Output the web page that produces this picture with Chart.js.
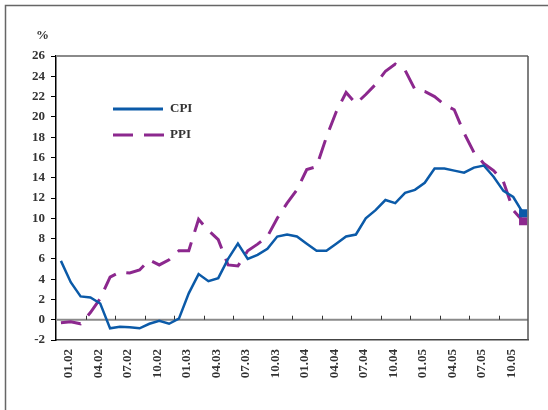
<!DOCTYPE html>
<html lang="en">
<head>
    <meta charset="UTF-8">
    <title>CPI and PPI</title>
    <style>
        body { margin: 0; background: #fff; }
    </style>
</head>
<body>
    <canvas id="myChart" width="548" height="410"></canvas>
    <script src="https://cdn.jsdelivr.net/npm/chart.js"></script>
    <script>
        // monthly data, 01.02 - 12.05
        const monthLabels = [];
        for (let y = 2; y <= 5; y++) {
            for (let m = 1; m <= 12; m++) {
                monthLabels.push(String(m).padStart(2, '0') + '.0' + y);
            }
        }
        const cpiValues = [5.8, 3.7, 2.3, 2.2, 1.6, -0.85, -0.7, -0.75, -0.85, -0.4, -0.1, -0.4,
                           0.1, 2.6, 4.5, 3.8, 4.1, 6.0, 7.5, 6.0, 6.4, 7.0, 8.2, 8.4,
                           8.2, 7.5, 6.8, 6.8, 7.5, 8.2, 8.4, 10.0, 10.8, 11.8, 11.5, 12.5,
                           12.8, 13.5, 14.9, 14.9, 14.7, 14.5, 15.0, 15.2, 14.1, 12.7, 12.1, 10.5];
        const ppiValues = [-0.3, -0.2, -0.4, 0.7, 2.1, 4.2, 4.7, 4.6, 4.9, 5.9, 5.4, 5.9,
                           6.8, 6.8, 9.9, 8.8, 7.9, 5.4, 5.3, 6.8, 7.45, 8.2, 10.0, 11.5,
                           12.8, 14.8, 15.1, 18.0, 20.5, 22.4, 21.3, 22.2, 23.2, 24.5, 25.2, 24.6,
                           22.7, 22.5, 22.0, 21.2, 20.7, 18.4, 16.5, 15.4, 14.7, 13.6, 10.8, 9.7];
        const seriesNames = ['CPI', 'PPI'];
        const yMin = -2, yMax = 26, yStep = 2;

        const cpiColor = '#0b5aa8';
        const ppiColor = '#8c288e';
        const labelFont = { family: 'Liberation Serif', size: 13, weight: 'bold' };

        // only last point gets a square marker
        const lastMarker = arr => arr.map((v, i) => i === arr.length - 1 ? 5.7 : 0);

        // frame, zero line, ticks on zero line, legend, "%" label
        const decor = {
            id: 'decor',
            beforeDatasetsDraw(chart) {
                const { ctx, chartArea: a, scales } = chart;
                const y0 = scales.y.getPixelForValue(0);
                ctx.save();
                ctx.strokeStyle = '#8a8a8a';
                ctx.lineWidth = 2;
                ctx.beginPath();
                ctx.moveTo(a.left, y0);
                ctx.lineTo(a.right, y0);
                ctx.moveTo(a.left, a.top);
                ctx.lineTo(a.right, a.top);
                ctx.stroke();
                ctx.strokeStyle = '#555';
                ctx.lineWidth = 1.5;
                ctx.beginPath();
                ctx.moveTo(a.right, a.top);
                ctx.lineTo(a.right, a.bottom);
                ctx.stroke();
                // tick marks every 3 months on zero line
                const n = monthLabels.length;
                const w = (a.right - a.left) / n;
                ctx.strokeStyle = '#333';
                ctx.lineWidth = 1;
                ctx.beginPath();
                for (let k = 3; k < n; k += 3) {
                    const x = Math.round(a.left + k * w) + 0.5;
                    ctx.moveTo(x, y0 - 4);
                    ctx.lineTo(x, y0);
                }
                ctx.stroke();
                ctx.restore();
            },
            afterDraw(chart) {
                const { ctx } = chart;
                ctx.save();
                ctx.strokeStyle = '#666';
                ctx.lineWidth = 1.5;
                ctx.strokeRect(5.5, 5.5, 600, 500);

                ctx.font = 'bold 13px "Liberation Serif"';
                ctx.fillStyle = '#333';
                ctx.textBaseline = 'middle';
                ctx.textAlign = 'left';
                ctx.fillText('%', 36, 36);

                // legend
                ctx.lineWidth = 3;
                ctx.strokeStyle = cpiColor;
                ctx.beginPath();
                ctx.moveTo(113, 109);
                ctx.lineTo(163, 109);
                ctx.stroke();
                ctx.strokeStyle = ppiColor;
                ctx.setLineDash([20, 11]);
                ctx.beginPath();
                ctx.moveTo(113, 135);
                ctx.lineTo(165, 135);
                ctx.stroke();
                ctx.setLineDash([]);
                ctx.fillText(seriesNames[0], 170, 109);
                ctx.fillText(seriesNames[1], 170, 135);
                ctx.restore();
            }
        };

        const ctx = document.getElementById('myChart').getContext('2d');
        new Chart(ctx, {
            type: 'line',
            data: {
                labels: monthLabels,
                datasets: [{
                    label: seriesNames[0],
                    data: cpiValues,
                    borderColor: cpiColor,
                    backgroundColor: cpiColor,
                    borderWidth: 2.5,
                    tension: 0,
                    pointStyle: 'rect',
                    pointRadius: lastMarker(cpiValues),
                    pointBorderWidth: 0
                }, {
                    label: seriesNames[1],
                    data: ppiValues,
                    borderColor: ppiColor,
                    backgroundColor: ppiColor,
                    borderWidth: 3,
                    borderDash: [20, 11],
                    tension: 0,
                    pointStyle: 'rect',
                    pointRadius: lastMarker(ppiValues),
                    pointBorderWidth: 0
                }]
            },
            options: {
                responsive: false,
                animation: false,
                layout: { padding: { left: 0, top: 56, right: 20, bottom: 0 } },
                plugins: {
                    legend: { display: false },
                    tooltip: { enabled: false }
                },
                scales: {
                    x: {
                        offset: true,
                        grid: { display: false, drawTicks: false },
                        border: { display: true, color: '#444', width: 1.5 },
                        ticks: {
                            autoSkip: false,
                            minRotation: 90,
                            maxRotation: 90,
                            padding: 9,
                            labelOffset: 8,
                            color: '#333',
                            font: labelFont,
                            callback: (v, i) => i % 3 === 0 ? monthLabels[i] : ''
                        },
                        afterFit: s => { s.height = 70; }
                    },
                    y: {
                        min: yMin,
                        max: yMax,
                        grid: { drawOnChartArea: false, drawTicks: true, tickLength: 5, color: '#000' },
                        border: { display: true, color: '#000', width: 1.5 },
                        ticks: {
                            stepSize: yStep,
                            padding: 6,
                            color: '#333',
                            font: labelFont
                        },
                        afterFit: s => { s.width = 56; }
                    }
                }
            },
            plugins: [decor]
        });
    </script>
</body>
</html>
